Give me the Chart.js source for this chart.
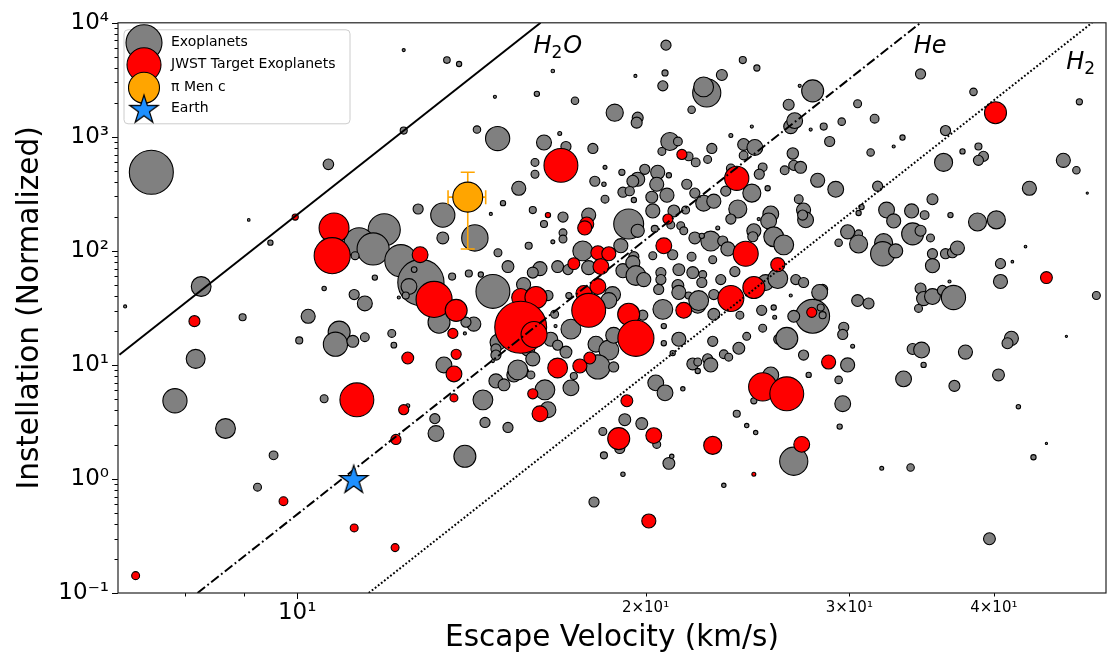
<!DOCTYPE html>
<html>
<head>
<meta charset="utf-8">
<title>Escape velocity vs instellation</title>
<script src="https://cdn.jsdelivr.net/npm/chart.js@4.4.0/dist/chart.umd.min.js"></script>
<style>
html, body { margin: 0; padding: 0; background: #fff; }
#wrap { width: 1118px; height: 670px; }
</style>
</head>
<body>
<div id="wrap"><canvas id="escapeChart" width="1118" height="670"></canvas></div>
<script>
// ===============================
// Data
// escape velocity in km/s, instellation in Earth units,
// planet radius in Earth radii (sets the bubble size)
// ===============================

const grayVel = [
7.48, 12.36, 13.47, 12.36, 10.64, 9.08, 9.48, 8.26, 10.55, 11.67,
11.20, 11.44, 7.10, 11.89, 11.31, 11.63, 12.29, 12.79, 12.49, 12.62,
11.22, 12.72, 13.36, 13.36, 13.26, 13.61, 12.41, 12.24, 10.22, 10.87,
10.79, 11.17, 11.44, 10.04, 12.07, 12.12, 13.39, 13.15, 13.18, 10.55,
12.46, 8.97, 8.17, 7.84, 8.67, 9.54, 9.24, 13.96, 14.47, 14.53,
15.21, 13.80, 16.63, 20.83, 24.27, 24.96, 19.60, 20.79, 23.28, 20.70,
22.59, 22.45, 14.82, 16.11, 17.38, 21.92, 18.81, 19.69, 19.65, 24.71,
14.30, 14.90, 16.86, 23.70, 16.34, 17.07, 18.01, 20.99, 21.33, 20.66,
21.79, 22.10, 22.82, 22.63, 24.31, 24.86, 24.31, 16.05, 16.05, 18.08,
18.45, 19.08, 18.41, 19.69, 19.97, 20.49, 20.45, 19.50, 20.95, 15.54,
24.71, 25.25, 25.08, 25.50, 21.71, 22.06, 22.45, 22.91, 23.46, 19.12,
19.38, 18.45, 19.54, 20.25, 20.87, 20.29, 21.16, 15.06, 14.70, 15.98,
16.34, 16.97, 17.86, 19.34, 19.69, 24.03, 23.70, 25.66, 25.55, 20.37,
21.45, 21.58, 14.24, 16.63, 16.97, 16.97, 15.85, 14.91, 15.21, 17.65,
19.04, 19.54, 22.77, 23.32, 22.06, 24.81, 16.21, 15.98, 14.76, 14.07,
14.41, 15.69, 16.79, 17.14, 17.86, 19.12, 19.54, 16.47, 17.17, 18.73,
18.59, 17.24, 16.69, 16.72, 16.56, 16.79, 14.91, 14.85, 14.85, 15.82,
15.98, 13.96, 14.21, 13.99, 14.76, 15.69, 15.39, 14.85, 15.09, 15.51,
15.92, 17.07, 18.12, 18.59, 18.77, 18.19, 18.77, 17.34, 17.24, 16.37,
16.47, 19.89, 20.70, 22.19, 22.91, 24.13, 25.20, 25.81, 25.86, 20.74,
20.74, 21.11, 21.37, 22.86, 24.08, 24.46, 25.25, 23.37, 23.60, 21.97,
22.19, 22.63, 22.77, 22.19, 20.41, 20.79, 21.54, 19.19, 18.37, 19.00,
19.85, 20.45, 23.98, 24.46, 24.90, 18.41, 19.12, 20.95, 21.07, 23.37,
18.05, 25.66, 24.81, 26.07, 26.70, 27.78, 28.51, 26.81, 26.86, 26.38,
27.23, 28.17, 23.70, 21.66, 27.39, 27.50, 25.05, 21.03, 22.37, 23.09,
20.29, 21.11, 21.92, 23.56, 22.86, 24.76, 23.89, 25.81, 26.33, 19.50,
19.62, 19.93, 20.62, 20.62, 21.37, 21.97, 22.41, 22.37, 21.33, 21.37,
21.79, 22.23, 20.53, 22.91, 23.23, 25.40, 26.97, 27.39, 26.70, 27.89,
28.34, 28.45, 28.45, 26.86, 26.49, 27.39, 27.89, 27.18, 26.59, 26.91,
28.85, 29.55, 30.50, 31.55, 34.57, 38.41, 47.42, 36.33, 33.35, 32.77,
31.30, 37.58, 38.79, 39.18, 38.79, 36.19, 45.93, 47.14, 48.17, 42.93,
29.20, 31.74, 35.40, 36.69, 30.74, 30.56, 27.13, 27.34, 32.31, 32.77,
33.96, 34.85, 29.90, 30.56, 30.56, 29.37, 32.12, 32.06, 32.90, 34.03,
34.57, 35.26, 38.72, 40.20, 42.60, 35.40, 35.40, 36.33, 36.84, 37.20,
40.53, 41.50, 40.53, 49.05, 36.62, 26.02, 28.28, 34.57, 34.78, 35.40,
36.11, 36.91, 30.50, 31.17, 34.43, 29.67, 29.61, 30.20, 29.90, 27.67,
29.37, 29.61, 29.43, 26.86, 32.00, 33.89, 33.42, 34.03, 34.64, 34.78,
36.98, 37.80, 40.37, 41.42, 41.10, 42.00, 44.41, 43.28, 46.21, 39.65
];

const grayInst = [
489, 5760, 4710, 1135, 574, 187, 118, 48.7, 46.8, 58.3,
41.4, 34.6, 32.6, 153, 118, 104, 82, 52.8, 48.7, 68.5,
90.7, 233, 206, 130, 23.7, 59.5, 40.6, 39.0, 26.7, 19.4,
15.2, 16.1, 17.5, 16.4, 18.9, 14.9, 10.0, 3.38, 2.50, 5.05,
4.39, 26.2, 11.3, 4.85, 2.77, 1.61, 0.847, 1.58, 4.94, 3.13,
2.83, 4350, 3780, 6370, 4710, 4015, 3420, 3630, 3490, 2800,
2430, 2740, 2244, 2383, 2071, 1728, 1628, 1473, 1332, 1230,
1158, 966, 1069, 1027, 892, 823, 791, 910, 910, 745,
674, 597, 791, 634, 857, 807, 687, 597, 470, 408,
540, 489, 384, 425, 519, 489, 384, 408, 460, 354,
321, 540, 470, 354, 384, 321, 262, 273, 334, 327,
334, 284, 279, 296, 308, 224, 224, 262, 211, 228,
172, 198, 206, 172, 150, 233, 190, 211, 183, 156,
166, 150, 130, 120, 144, 127, 111, 96.3, 72.8, 100,
111, 88.9, 122, 122, 130, 150, 69.9, 64.5, 44.1, 63.3,
62.0, 50.7, 72.8, 68.5, 71.3, 67.1, 67.1, 40.6, 40.6, 41.4,
36.7, 20.6, 27.8, 21.9, 16.8, 14.9, 15.8, 13.8, 12.2, 13.8,
11.3, 18.9, 22.8, 23.7, 10.8, 8.68, 8.17, 7.24, 6.69, 9.04,
8.17, 12.96, 15.2, 13.5, 18.2, 9.6, 9.6, 8.0, 6.29, 6.05,
4.05, 27.3, 30.7, 33.3, 27.8, 27.3, 30.1, 31.9, 26.2, 21.9,
15.5, 12.7, 16.8, 16.1, 14.0, 17.8, 21.0, 12.4, 11.7, 10.2,
10.6, 11.3, 10.0, 8.85, 6.96, 5.69, 6.17, 3.31, 2.61, 1.85,
3.06, 2.01, 3.73, 2.94, 2.55, 1.61, 1.10, 1.37, 1.58, 0.88,
0.628, 8.17, 4.85, 16.8, 1230, 1158, 1230, 715, 562, 509,
540, 416, 529, 228, 228, 187, 190, 169, 135.5, 159,
90.7, 92.5, 88.9, 104, 83.7, 133, 65.8, 133, 113, 78.8,
60.8, 56.0, 64.5, 56.0, 68.5, 64.5, 62.0, 52.8, 49.7, 43.2,
40.6, 36.7, 45.9, 41.4, 56.0, 52.8, 56.0, 52.8, 40.6, 26.7,
31.9, 27.3, 45.9, 26.7, 17.1, 12.2, 2530, 2800, 1912, 1387,
910, 1359, 1950, 1443, 3560, 2480, 2030, 1135, 986, 823,
730, 745, 823, 674, 622, 597, 622, 509, 321, 354,
347, 369, 284, 206, 242, 215, 284, 206, 228, 183,
224, 206, 147, 141, 115, 118, 118, 94.4, 100, 141,
150, 130, 179, 187, 109, 94.4, 74.2, 94.4, 96.3, 106,
77.3, 80.4, 53.9, 40.6, 53.9, 57.2, 43.2, 46.8, 38.2, 39.8,
45.0, 39.0, 36.7, 34.6, 31.3, 21.4, 18.5, 14.6, 10.0, 8.17,
7.39, 4.57, 2.88, 1.43, 1.24, 1.26, 7.54, 13.8, 13.5, 10.0,
6.55, 12.96, 8.17, 17.1, 15.5, 4.30, 2.05, 1.55, 17.8, 0.299
];

const grayRad = [
10, 0.7, 1.5, 1.6, 2.4, 0.6, 1.2, 4.5, 1.0, 1.2,
2.3, 3.4, 0.7, 7.3, 6.8, 7.3, 7.3, 10.5, 3.6, 1.3,
1.8, 2.3, 5.5, 2.7, 5.0, 1.6, 1.6, 0.7, 3.2, 5.0,
5.5, 2.7, 2.0, 1.6, 1.8, 1.3, 3.6, 2.3, 3.6, 1.8,
0.9, 1.6, 4.3, 5.5, 4.5, 2.0, 1.8, 5.0, 4.5, 2.3,
2.3, 1.2, 0.8, 2.3, 1.6, 1.4, 0.7, 1.4, 2.5, 2.3,
6.4, 4.5, 0.7, 1.2, 1.7, 1.7, 3.9, 2.5, 2.5, 0.7,
1.7, 5.5, 0.9, 0.9, 3.4, 2.3, 2.3, 4.1, 2.0, 1.8,
2.0, 2.0, 2.3, 1.8, 2.7, 3.6, 2.0, 1.8, 1.8, 2.3,
0.9, 1.4, 1.0, 3.2, 2.3, 3.2, 3.2, 2.7, 1.2, 3.2,
4.1, 2.0, 2.3, 1.2, 2.3, 2.3, 3.6, 3.2, 2.3, 2.3,
2.1, 1.8, 1.2, 2.7, 3.2, 3.2, 2.7, 1.2, 0.7, 1.6,
1.6, 2.3, 3.2, 6.8, 3.0, 4.1, 2.3, 3.6, 3.6, 1.6,
1.8, 1.8, 6.0, 0.9, 1.8, 1.8, 1.6, 1.8, 2.7, 4.5,
3.2, 2.3, 4.5, 2.3, 2.7, 3.2, 3.2, 2.5, 7.7, 1.6,
1.2, 3.2, 2.7, 2.3, 3.2, 3.2, 2.3, 2.3, 1.4, 3.6,
3.6, 4.5, 1.8, 0.7, 3.2, 2.3, 3.6, 2.3, 2.3, 3.2,
3.2, 0.7, 3.2, 2.3, 0.7, 2.3, 3.2, 3.2, 2.7, 4.5,
1.8, 2.7, 3.6, 4.5, 3.6, 5.5, 2.3, 1.6, 3.6, 4.5,
3.6, 2.3, 4.5, 3.6, 2.7, 1.8, 2.3, 1.2, 0.9, 1.2,
1.2, 1.2, 3.2, 2.3, 2.7, 1.8, 1.8, 2.0, 1.8, 2.7,
1.8, 2.3, 3.2, 1.2, 3.6, 3.6, 1.0, 2.7, 1.8, 2.3,
2.7, 1.8, 1.6, 1.0, 1.0, 1.6, 1.0, 2.7, 1.0, 1.0,
2.3, 3.6, 1.4, 2.3, 3.2, 0.7, 1.6, 2.6, 2.3, 2.0,
2.7, 3.2, 2.0, 1.8, 3.2, 3.6, 0.7, 1.8, 1.2, 0.9,
1.8, 2.3, 2.0, 3.2, 1.8, 2.3, 2.3, 4.5, 4.5, 3.2,
4.5, 3.2, 2.3, 2.3, 2.7, 2.7, 1.8, 2.3, 2.7, 3.2,
1.6, 4.5, 2.3, 2.3, 2.3, 3.6, 2.3, 2.3, 0.7, 7.7,
1.6, 1.6, 2.3, 2.7, 5.0, 2.3, 5.0, 0.7, 2.5, 3.6,
2.3, 1.7, 1.8, 2.0, 2.3, 1.7, 1.4, 2.3, 1.2, 0.7,
1.7, 1.2, 1.6, 2.3, 2.3, 4.1, 3.2, 1.7, 0.5, 3.2,
3.6, 2.3, 2.5, 1.2, 1.2, 1.2, 2.0, 2.3, 3.6, 3.2,
3.2, 2.0, 3.2, 1.8, 4.1, 1.7, 4.1, 5.5, 3.2, 5.0,
2.5, 1.8, 4.1, 4.1, 0.6, 2.3, 3.2, 2.3, 2.3, 3.2,
2.3, 0.6, 3.2, 1.8, 0.7, 4.5, 3.6, 2.5, 3.2, 3.6,
2.3, 5.5, 2.7, 2.5, 1.8, 2.3, 2.3, 0.9, 3.2, 1.2,
1.7, 3.6, 1.2, 6.4, 0.9, 1.7, 3.6, 2.5, 3.6, 1.2,
2.5, 3.2, 2.7, 3.2, 2.5, 1.0, 0.5, 1.2, 0.5, 2.7
];

const jwstVel = [
9.96, 10.76, 10.72, 12.77, 13.13, 13.72, 13.63, 12.46, 13.66, 13.72,
11.26, 12.36, 13.66, 8.15, 9.73, 7.25, 11.20, 12.15, 12.17, 21.50,
16.90, 16.47, 17.79, 17.72, 23.98, 20.91, 18.19, 18.59, 17.34, 18.30,
24.41, 26.02, 20.74, 15.60, 16.08, 15.60, 16.02, 17.69, 18.19, 17.86,
19.34, 19.62, 16.79, 17.55, 17.90, 15.98, 16.21, 21.58, 23.70, 24.81,
25.25, 26.49, 19.27, 18.96, 20.33, 22.86, 24.81, 20.13, 27.84, 28.79,
27.29, 40.13, 44.41
];

const jwstInst = [
198, 159, 90.7, 92.5, 37.5, 30.1, 18.9, 11.5, 8.34, 12.4,
4.94, 4.05, 5.14, 24.2, 0.638, 0.142, 0.372, 0.250, 2.22, 701,
562, 206, 172, 159, 433, 190, 96.3, 94.4, 77.3, 72.8,
94.4, 75.7, 110.8, 39.0, 39.0, 21.4, 18.5, 42.3, 48.7, 30.1,
27.8, 17.1, 9.4, 9.79, 11.5, 5.58, 3.73, 30.1, 38.2, 47.7,
6.42, 5.58, 4.85, 2.26, 2.40, 1.97, 1.10, 0.428, 28.9, 10.6,
2.01, 1628, 58.3
];

const jwstRad = [
1.4, 6.8, 8.2, 3.6, 8.2, 5.0, 2.3, 2.7, 3.6, 2.3,
7.7, 2.3, 1.8, 2.5, 2.0, 1.8, 1.8, 1.8, 2.3, 2.3,
7.7, 1.2, 3.2, 3.2, 5.5, 2.3, 3.2, 3.2, 2.7, 3.6,
5.7, 3.2, 3.6, 4.1, 5.0, 11.8, 5.9, 3.6, 3.6, 7.7,
5.0, 8.2, 4.5, 3.2, 2.7, 2.3, 3.6, 3.6, 5.9, 5.0,
6.4, 7.7, 2.7, 5.0, 3.6, 4.1, 0.9, 3.2, 2.3, 3.2,
3.6, 5.0, 2.7
];

const piMenVel = [14.04];
const piMenInst = [296];
const piMenRad = [6.8];
const piMenVelRange = [13.5, 14.55];
const piMenInstRange = [104, 489];

const earthVel = [11.19];
const earthInst = [1.0];

// gas escape thresholds (line end points)
const h2oLineVel = [7.02, 16.23];
const h2oLineInst = [12.3, 10000];
const heLineVel = [8.2, 34.57];
const heLineInst = [0.1, 10000];
const h2LineVel = [11.53, 48.63];
const h2LineInst = [0.1, 10000];

const gasNames = ["H_2O", "He", "H_2"];
const gasNameVel = [16.0, 34.1, 46.2];
const gasNameInst = [5420, 5420, 3930];

// axis ticks
const xTickValues = [8, 9, 10, 20, 30, 40];
const xTickLabels = ["", "", "10¹", "2×10¹", "3×10¹", "4×10¹"];
const yMajorTicks = [0.1, 1, 10, 100, 1000, 10000];

// ===============================
// Helpers
// ===============================

const GRAY = "#808080";
const RED = "#ff0000";
const ORANGE = "#ffa500";
const BLUE = "#1e90ff";
const PX_PER_RADIUS = 2.2;

function toPoints(xs, ys) {
    return xs.map((v, i) => ({ x: v, y: ys[i] }));
}

function isPow10(v) {
    const l = Math.log10(v);
    return Math.abs(l - Math.round(l)) < 1e-9;
}

const SUP = { "-": "⁻", "0": "⁰", "1": "¹", "2": "²", "3": "³", "4": "⁴", "5": "⁵" };

function powLabel(v) {
    const e = Math.round(Math.log10(v));
    return "10" + String(e).split("").map(c => SUP[c]).join("");
}

const yTickValues = [];
yMajorTicks.forEach((m, i) => {
    if (i < yMajorTicks.length - 1) {
        for (let k = 1; k <= 9; k++) yTickValues.push(m * k);
    } else {
        yTickValues.push(m);
    }
});

function makeStar(outer, fill) {
    const inner = outer * 0.382;
    const size = Math.ceil(outer * 2 + 4);
    const c = document.createElement("canvas");
    c.width = size;
    c.height = size;
    const g = c.getContext("2d");
    g.translate(size / 2, size / 2 + outer * 0.08);
    g.beginPath();
    for (let i = 0; i < 10; i++) {
        const r = i % 2 ? inner : outer;
        const a = -Math.PI / 2 + i * Math.PI / 5;
        g.lineTo(r * Math.cos(a), r * Math.sin(a));
    }
    g.closePath();
    g.fillStyle = fill;
    g.fill();
    g.lineWidth = 1.2;
    g.strokeStyle = "#000";
    g.stroke();
    return c;
}

const starImg = makeStar(15, BLUE);

// ===============================
// Drawing extras (frame, ticks, labels, legend)
// ===============================

function drawErrorBars(chart) {
    const { ctx } = chart;
    const xs = chart.scales.x, ys = chart.scales.y;
    const cx = xs.getPixelForValue(piMenVel[0]);
    const cy = ys.getPixelForValue(piMenInst[0]);
    const x0 = xs.getPixelForValue(piMenVelRange[0]);
    const x1 = xs.getPixelForValue(piMenVelRange[1]);
    const y0 = ys.getPixelForValue(piMenInstRange[0]);
    const y1 = ys.getPixelForValue(piMenInstRange[1]);
    const cap = 7;
    ctx.save();
    ctx.strokeStyle = ORANGE;
    ctx.lineWidth = 1.6;
    ctx.beginPath();
    ctx.moveTo(cx, y0); ctx.lineTo(cx, y1);
    ctx.moveTo(x0, cy); ctx.lineTo(x1, cy);
    ctx.moveTo(cx - cap, y0); ctx.lineTo(cx + cap, y0);
    ctx.moveTo(cx - cap, y1); ctx.lineTo(cx + cap, y1);
    ctx.moveTo(x0, cy - cap); ctx.lineTo(x0, cy + cap);
    ctx.moveTo(x1, cy - cap); ctx.lineTo(x1, cy + cap);
    ctx.stroke();
    ctx.restore();
}

function drawGasNames(chart) {
    const { ctx } = chart;
    const xs = chart.scales.x, ys = chart.scales.y;
    ctx.save();
    ctx.fillStyle = "#000";
    ctx.textBaseline = "alphabetic";
    ctx.textAlign = "left";
    gasNames.forEach((name, i) => {
        let px = xs.getPixelForValue(gasNameVel[i]);
        const py = ys.getPixelForValue(gasNameInst[i]);
        for (let k = 0; k < name.length; k++) {
            let ch = name[k];
            let sub = false;
            if (ch === "_") { sub = true; ch = name[++k]; }
            ctx.font = sub ? '17px "DejaVu Sans"' : 'italic 24px "DejaVu Sans"';
            ctx.fillText(ch, px, sub ? py + 5 : py);
            px += ctx.measureText(ch).width + (sub ? 1 : 0);
        }
    });
    ctx.restore();
}

function drawFrameAndTicks(chart) {
    const { ctx, chartArea: a } = chart;
    const xs = chart.scales.x, ys = chart.scales.y;
    ctx.save();
    ctx.strokeStyle = "#000";
    ctx.lineWidth = 1;
    ctx.beginPath();
    xs.ticks.forEach(t => {
        const px = Math.round(xs.getPixelForValue(t.value)) + 0.5;
        const len = isPow10(t.value) ? 6 : 3.5;
        ctx.moveTo(px, a.bottom); ctx.lineTo(px, a.bottom + len);
    });
    ys.ticks.forEach(t => {
        const py = Math.round(ys.getPixelForValue(t.value)) + 0.5;
        const len = isPow10(t.value) ? 6 : 3.5;
        ctx.moveTo(a.left, py); ctx.lineTo(a.left - len, py);
    });
    ctx.stroke();
    ctx.lineWidth = 1.2;
    ctx.strokeStyle = "#222";
    ctx.strokeRect(a.left, a.top, a.right - a.left, a.bottom - a.top);
    ctx.restore();
}

function drawLegend(chart) {
    const { ctx, chartArea: a } = chart;
    const bx = a.left + 6, by = a.top + 7, bw = 226, bh = 94;
    ctx.save();
    ctx.beginPath();
    if (ctx.roundRect) ctx.roundRect(bx, by, bw, bh, 4);
    else ctx.rect(bx, by, bw, bh);
    ctx.fillStyle = "rgba(255,255,255,0.8)";
    ctx.fill();
    ctx.strokeStyle = "#cccccc";
    ctx.lineWidth = 1;
    ctx.stroke();

    const items = [
        { label: "Exoplanets", color: GRAY, r: 18, dy: 20 },
        { label: "JWST Target Exoplanets", color: RED, r: 17, dy: 42 },
        { label: "π Men c", color: ORANGE, r: 15.5, dy: 65 },
        { label: "Earth", star: true, dy: 86 }
    ];
    const cx = a.left + 26;
    items.forEach(it => {
        const cy = a.top + it.dy;
        if (it.star) {
            ctx.drawImage(starImg, cx - starImg.width / 2, cy - starImg.height / 2);
        } else {
            ctx.beginPath();
            ctx.arc(cx, cy, it.r, 0, Math.PI * 2);
            ctx.fillStyle = it.color;
            ctx.fill();
            ctx.lineWidth = 1.1;
            ctx.strokeStyle = "#000";
            ctx.stroke();
        }
    });
    ctx.fillStyle = "#000";
    ctx.font = '14px "DejaVu Sans"';
    ctx.textBaseline = "middle";
    ctx.textAlign = "left";
    items.forEach(it => ctx.fillText(it.label, a.left + 53, a.top + it.dy));
    ctx.restore();
}

const extrasPlugin = {
    id: "extras",
    beforeDatasetDraw(chart, args) {
        if (chart.data.datasets[args.index].label === "π Men c") drawErrorBars(chart);
    },
    afterDatasetsDraw(chart) {
        drawGasNames(chart);
    },
    afterDraw(chart) {
        drawFrameAndTicks(chart);
        drawLegend(chart);
    }
};

// ===============================
// Chart
// ===============================

Chart.defaults.font.family = "'DejaVu Sans', sans-serif";
Chart.defaults.color = "#000";

function bubbleSet(label, xs, ys, rs, color) {
    return {
        label: label,
        data: toPoints(xs, ys),
        showLine: false,
        pointRadius: c => rs[c.dataIndex] * PX_PER_RADIUS,
        pointHoverRadius: c => rs[c.dataIndex] * PX_PER_RADIUS,
        pointBackgroundColor: color,
        pointBorderColor: "#000",
        pointBorderWidth: 1.1,
        pointHoverBorderWidth: 1.1
    };
}

function gasLine(label, xs, ys, dash) {
    return {
        type: "line",
        label: label,
        data: toPoints(xs, ys),
        borderColor: "#000",
        borderWidth: 2,
        borderDash: dash,
        pointRadius: 0,
        fill: false,
        tension: 0
    };
}

const escapeChart = document.getElementById("escapeChart");

if (escapeChart) {
    new Chart(escapeChart, {
        type: "scatter",
        data: {
            datasets: [
                {
                    label: "Earth",
                    data: toPoints(earthVel, earthInst),
                    pointStyle: starImg,
                    pointRadius: 15,
                    pointBackgroundColor: BLUE,
                    pointBorderColor: "#000"
                },
                gasLine("H2O", h2oLineVel, h2oLineInst, []),
                gasLine("He", heLineVel, heLineInst, [9.6, 3, 1.8, 3]),
                gasLine("H2", h2LineVel, h2LineInst, [1.8, 2.1]),
                bubbleSet("π Men c", piMenVel, piMenInst, piMenRad, ORANGE),
                bubbleSet("JWST Target Exoplanets", jwstVel, jwstInst, jwstRad, RED),
                bubbleSet("Exoplanets", grayVel, grayInst, grayRad, GRAY)
            ]
        },
        options: {
            responsive: false,
            animation: false,
            events: [],
            layout: {
                autoPadding: false,
                padding: { top: 19, right: 12, left: 0, bottom: 0 }
            },
            plugins: {
                legend: { display: false },
                tooltip: { enabled: false }
            },
            scales: {
                x: {
                    type: "logarithmic",
                    min: 7,
                    max: 50,
                    afterBuildTicks: s => { s.ticks = xTickValues.map(v => ({ value: v })); },
                    afterFit: s => { s.height = 77; },
                    grid: { display: false, drawTicks: false },
                    border: { display: false },
                    ticks: {
                        autoSkip: false,
                        maxRotation: 0,
                        minRotation: 0,
                        padding: 6,
                        color: "#000",
                        font: c => ({ size: (c.tick && isPow10(c.tick.value)) ? 23 : 15 }),
                        callback: (v, i) => xTickLabels[i]
                    },
                    title: {
                        display: true,
                        text: "Escape Velocity (km/s)",
                        color: "#000",
                        font: { size: 29.5 },
                        padding: { top: 0, bottom: 14 }
                    }
                },
                y: {
                    type: "logarithmic",
                    min: 0.1,
                    max: 10000,
                    afterBuildTicks: s => { s.ticks = yTickValues.map(v => ({ value: v })); },
                    afterFit: s => { s.width = 118; },
                    grid: { display: false, drawTicks: false },
                    border: { display: false },
                    ticks: {
                        autoSkip: false,
                        padding: 9,
                        color: "#000",
                        font: { size: 23 },
                        callback: v => isPow10(v) ? powLabel(v) : ""
                    },
                    title: {
                        display: true,
                        text: "Instellation (Normalized)",
                        color: "#000",
                        font: { size: 29.5 },
                        padding: { top: 13, bottom: 0 }
                    }
                }
            }
        },
        plugins: [extrasPlugin]
    });
}
</script>
</body>
</html>
